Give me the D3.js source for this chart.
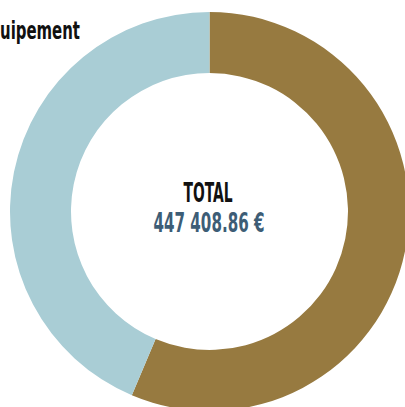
<!DOCTYPE html>
<html><head><meta charset="utf-8">
<script src="https://cdn.jsdelivr.net/npm/d3@7"></script>
<style>
html,body{margin:0;padding:0;background:#fff;overflow:hidden;}
svg{display:block;}
.lbl{font-family:"Liberation Sans Narrow","DejaVu Sans Condensed","Roboto",sans-serif;font-weight:bold;}
</style></head>
<body>
<svg id="c" width="405" height="407"></svg>
<script>
const categories = ["Fonctionnement", "Équipement"];
const values = [252170.00, 195238.86];
const colors = ["#977a40", "#a9cdd5"];
const totalLabel = "TOTAL";
const totalText = "447 408.86 €";

const W = 405, H = 407;
const cx = 209.5, cy = 211.5, rOuter = 199.5, rInner = 138.5;
const svg = d3.select("#c");
const g = svg.append("g").attr("transform", `translate(${cx},${cy})`);

const pie = d3.pie().sort(null).value(d => d.v);
const arc = d3.arc().innerRadius(rInner).outerRadius(rOuter);
const data = categories.map((c, i) => ({c, v: values[i], col: colors[i]}));
g.selectAll("path").data(pie(data)).join("path")
  .attr("d", arc).attr("fill", d => d.data.col);

// center texts
svg.append("text").attr("class","lbl")
  .attr("x", cx - 1.5).attr("y", 202).attr("text-anchor","middle")
  .attr("font-size", 26).attr("fill","#111")
  .attr("textLength", 49).attr("lengthAdjust","spacingAndGlyphs")
  .text(totalLabel);
svg.append("text").attr("class","lbl")
  .attr("x", 209).attr("y", 232).attr("text-anchor","middle")
  .attr("font-size", 26).attr("fill","#3d5d76")
  .attr("textLength", 111).attr("lengthAdjust","spacingAndGlyphs")
  .text(totalText);

// category label (clipped at left edge, as in the reference)
const lab = svg.append("text").attr("class","lbl")
  .attr("text-anchor","end").attr("font-size", 25).attr("fill","#111")
  .text(categories[1]);
let sub = 1;
try { sub = lab.node().getSubStringLength(2, categories[1].length - 2); } catch(e) {}
const s = sub > 0 ? 80 / sub : 1;
lab.attr("transform", `translate(80,39) scale(${s},1)`);
</script>
</body></html>
